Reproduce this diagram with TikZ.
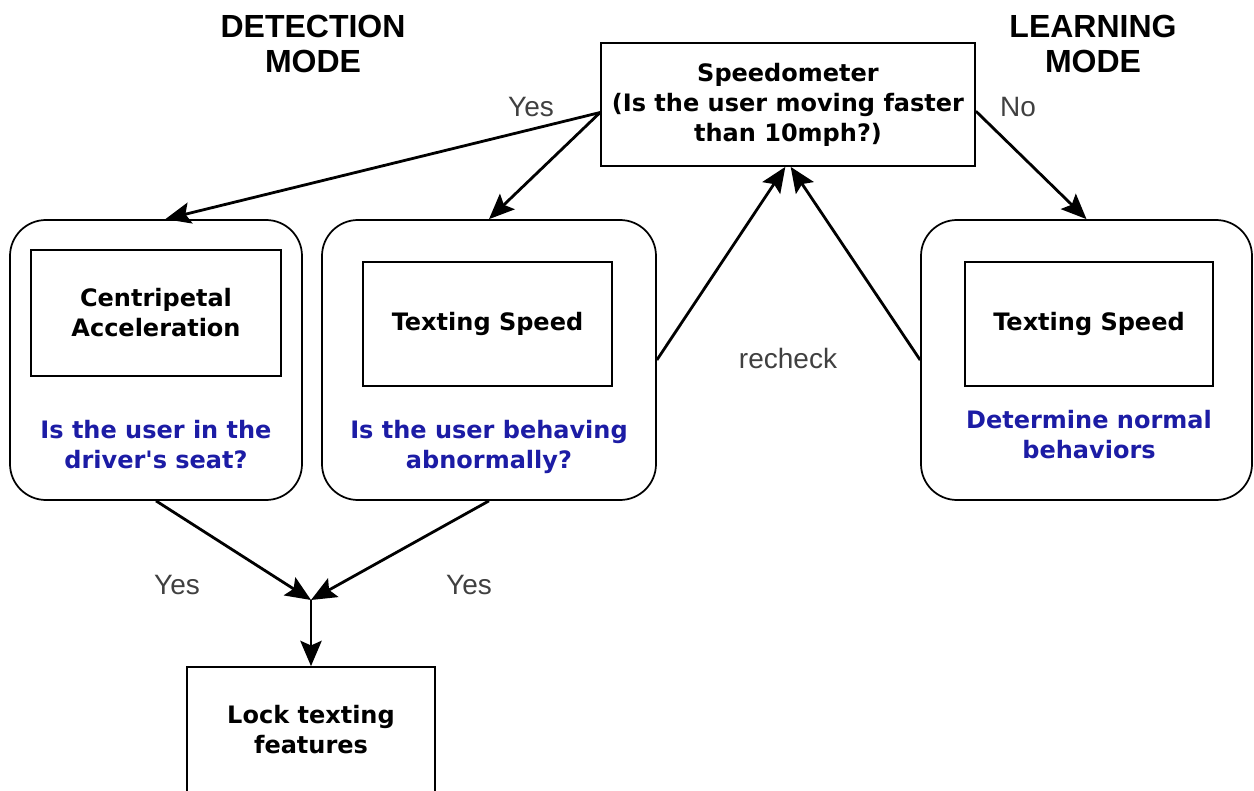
\documentclass[tikz,border=0pt]{standalone}
\usepackage{fontspec}
\newfontfamily\boxfont{DejaVu Sans}
\newfontfamily\headfont{Liberation Sans}
\usetikzlibrary{arrows.meta}
\definecolor{askblue}{RGB}{28,28,165}
\definecolor{labelgray}{RGB}{64,64,64}
\tikzset{every picture/.style={line width=0.75pt}}

\begin{document}
\begin{tikzpicture}[x=0.75pt,y=0.75pt,yscale=-1,xscale=1,
    flow/.style={-{Stealth[length=19pt,width=16pt,inset=3.5pt]},line width=2.1pt},
    modebox/.style={draw,line width=1.3pt,rounded corners=27pt,minimum height=210pt},
    textbox/.style={draw,line width=1.3pt,align=center,font=\boxfont\bfseries\fontsize{18}{22.5}\selectfont},
    ask/.style={text=askblue,align=center,font=\boxfont\bfseries\fontsize{18}{22.5}\selectfont},
    lbl/.style={text=labelgray,font=\headfont\fontsize{21}{24}\selectfont},
    head/.style={align=center,font=\headfont\bfseries\fontsize{24}{26}\selectfont}]
        \useasboundingbox (0,0) rectangle (1254,791);

        % Mode headings
        \node [head] (detect) at (313,44) {DETECTION\\MODE};
        \node [head] (learn) at (1093,44) {LEARNING\\MODE};

        % Speedometer
        \node [textbox,minimum width=280.5pt,minimum height=92.25pt] (speedo) at (788,104.5) {Speedometer\\(Is the user moving faster\\than 10mph?)};

        % Rounded boxes
        \node [modebox,minimum width=219pt] (seat) at (156,360) {};
        \node [modebox,minimum width=250.5pt] (abnorm) at (489,360) {};
        \node [modebox,minimum width=248.25pt] (normal) at (1086.5,360) {};

        % Inner boxes
        \node [textbox,minimum width=187.5pt,minimum height=94.5pt] (centri) at (156,313) {Centripetal\\Acceleration};
        \node [textbox,minimum width=186.75pt,minimum height=93pt] (speedA) at (487.5,324) {Texting Speed};
        \node [textbox,minimum width=186pt,minimum height=93pt] (speedB) at (1089,324) {Texting Speed};

        % Questions
        \node [ask] (qseat) at (156,445) {Is the user in the\\driver's seat?};
        \node [ask] (qabnorm) at (489,447) {Is the user behaving\\abnormally?};
        \node [ask] (qnormal) at (1089,435) {Determine normal\\behaviors};

        % Lock
        \node [textbox,minimum width=186pt,minimum height=94.5pt] (lock) at (311,730) {Lock texting\\features};
        \coordinate (merge) at (311,600);

        % Connectors
        \draw [flow] ([yshift=6pt]speedo.west) -- ([xshift=7pt]seat.north);
        \draw [flow] ([yshift=6pt]speedo.west) -- (abnorm.north);
        \draw [flow] ([yshift=5pt]speedo.east) -- (normal.north);
        \draw [flow] (abnorm.east) -- ([xshift=-2pt]speedo.south);
        \draw [flow] (normal.west) -- ([xshift=2pt]speedo.south);
        \draw [flow] (seat.south) -- (merge);
        \draw [flow] (abnorm.south) -- (merge);
        \draw [flow] (merge) -- (lock.north);

        % Labels
        \node [lbl] (yesA) at (531,107) {Yes};
        \node [lbl] (noA) at (1018,107) {No};
        \node [lbl] (recheck) at (788,358) {recheck};
        \node [lbl] (yesB) at (177,585) {Yes};
        \node [lbl] (yesC) at (469,585) {Yes};
\end{tikzpicture}
\end{document}
